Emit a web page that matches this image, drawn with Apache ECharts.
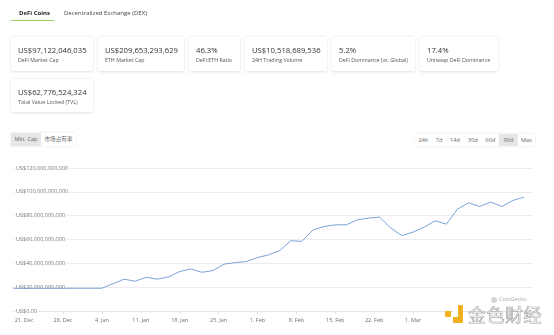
<!DOCTYPE html>
<html>
<head>
<meta charset="utf-8">
<script src="https://cdn.jsdelivr.net/npm/echarts@6/dist/echarts.min.js"></script>
<style>
  html, body { margin: 0; padding: 0; background: #fff; }
  body { width: 554px; height: 335px; position: relative; overflow: hidden; font-family: "Open Sans", "Noto Sans", sans-serif; color: #333; }
  #chart { position: absolute; left: 0; top: 0; width: 554px; height: 335px; }
  .abs { position: absolute; white-space: nowrap; }
  .tab { font-size: 6px; top: 9px; line-height: 8px; }
  .card { position: absolute; background: #fff; box-shadow: 0 0.5px 3px rgba(0,0,0,0.13); border-radius: 2px; }
  .card .v { position: absolute; left: 7px; top: 8px; font-size: 7.7px; line-height: 10px; color: #333; }
  .card .l { position: absolute; left: 7px; top: 20px; font-size: 5.3px; line-height: 7px; color: #555; }
  .btn { position: absolute; font-size: 5.6px; line-height: 12px; height: 12px; text-align: center; color: #666666; background: #fff; }
  .btn.on { background: #e6e6e6; }
</style>
</head>
<body>
<div id="chart"></div>

<div class="abs tab" style="left:19px;font-weight:bold;color:#222;">DeFi Coins</div>
<div class="abs" style="left:11px;top:20px;width:43px;height:1.3px;background:#9ccb64;"></div>
<div class="abs tab" style="left:64px;color:#444;">Decentralized Exchange (DEX)</div>

<div class="card" style="left:11px;top:37px;width:82px;height:34px;"><div class="v">US$97,122,046,035</div><div class="l">DeFi Market Cap</div></div>
<div class="card" style="left:98px;top:37px;width:86px;height:34px;"><div class="v">US$209,653,293,629</div><div class="l">ETH Market Cap</div></div>
<div class="card" style="left:189px;top:37px;width:51px;height:34px;"><div class="v">46.3%</div><div class="l">DeFi:ETH Ratio</div></div>
<div class="card" style="left:245px;top:37px;width:82px;height:34px;"><div class="v">US$10,518,689,536</div><div class="l">24H Trading Volume</div></div>
<div class="card" style="left:332px;top:37px;width:83px;height:34px;"><div class="v">5.2%</div><div class="l">DeFi Dominance (vs. Global)</div></div>
<div class="card" style="left:420px;top:37px;width:78px;height:34px;"><div class="v">17.4%</div><div class="l">Uniswap DeFi Dominance</div></div>
<div class="card" style="left:11px;top:79px;width:82px;height:33px;"><div class="v">US$62,776,524,324</div><div class="l">Total Value Locked (TVL)</div></div>

<div class="abs" style="left:11px;top:133px;width:65px;height:13px;box-shadow:0 0 2px rgba(0,0,0,0.12);">
  <div class="btn on" style="left:0;top:0;width:30px;height:13px;line-height:13px;">Mkt. Cap</div>
  <div class="btn" style="left:30px;top:0;width:35px;height:13px;line-height:13px;font-family:'Noto Sans CJK SC',sans-serif;">市场占有率</div>
</div>

<div class="abs" style="left:415px;top:134px;width:120px;height:12px;box-shadow:0 0 2px rgba(0,0,0,0.12);">
  <div class="btn" style="left:0;top:0;width:17px;">24h</div>
  <div class="btn" style="left:17px;top:0;width:14px;">7d</div>
  <div class="btn" style="left:31px;top:0;width:18px;">14d</div>
  <div class="btn" style="left:49px;top:0;width:18px;">30d</div>
  <div class="btn" style="left:67px;top:0;width:17px;">60d</div>
  <div class="btn on" style="left:84px;top:0;width:19px;">90d</div>
  <div class="btn" style="left:103px;top:0;width:17px;">Max</div>
</div>

<div class="abs" style="left:491px;top:297px;width:6px;height:6px;border-radius:50%;background:#d4d4d4;"></div>
<div class="abs" style="left:499px;top:296px;font-size:5.5px;line-height:7px;color:#aaa;">CoinGecko</div>

<div class="abs" style="left:445px;top:311px;width:6px;height:6px;background:#f2b01e;border-radius:1px;"></div>
<div class="abs" style="left:453px;top:305px;width:10px;height:18px;background:#f2b01e;border-radius:1px;"></div>
<div class="abs" style="left:453px;top:305px;width:5px;height:12px;background:#fff;"></div>
<div class="abs" style="left:468px;top:305px;font-family:'Noto Sans CJK SC',sans-serif;font-size:18px;line-height:18px;letter-spacing:0.5px;color:#fff;-webkit-text-stroke:0.7px #a8a8a8;">金色财经</div>

<script>
// DeFi market cap, 90-day view (values in billions of US$)
const dates = [
  '2020-12-19', '2021-01-04', '2021-01-08', '2021-01-10', '2021-01-12', '2021-01-14',
  '2021-01-16', '2021-01-18', '2021-01-20', '2021-01-22', '2021-01-24', '2021-01-26',
  '2021-01-28', '2021-01-30', '2021-02-01', '2021-02-03', '2021-02-05', '2021-02-07',
  '2021-02-09', '2021-02-11', '2021-02-13', '2021-02-15', '2021-02-17', '2021-02-19',
  '2021-02-21', '2021-02-23', '2021-02-25', '2021-02-27', '2021-03-01', '2021-03-03',
  '2021-03-05', '2021-03-07', '2021-03-09', '2021-03-11', '2021-03-13', '2021-03-15',
  '2021-03-17', '2021-03-19', '2021-03-21'
];
const marketCap = [
  19.1, 19.1, 26.7, 25.0, 28.3, 26.7,
  28.6, 33.1, 35.3, 32.5, 33.9, 39.3,
  40.6, 41.5, 44.8, 47.1, 50.7, 58.9,
  58.5, 68.1, 70.9, 72.3, 72.3, 76.5,
  78.0, 78.8, 69.6, 63.3, 66.2, 70.4,
  75.7, 72.9, 85.5, 90.8, 87.7, 91.4,
  87.7, 92.8, 95.6
];
const xTickDates = [
  '2020-12-21', '2020-12-28', '2021-01-04', '2021-01-11', '2021-01-18', '2021-01-25',
  '2021-02-01', '2021-02-08', '2021-02-15', '2021-02-22', '2021-03-01'
];
const xTickLabels = [
  '21. Dec', '28. Dec', '4. Jan', '11. Jan', '18. Jan', '25. Jan',
  '1. Feb', '8. Feb', '15. Feb', '22. Feb', '1. Mar'
];
const yTicks = [0, 20, 40, 60, 80, 100, 120];

function ts(s) {
  const p = s.split('-').map(Number);
  return Date.UTC(p[0], p[1] - 1, p[2]);
}
const xTickTimes = xTickDates.map(ts);
const seriesData = dates.map((d, i) => [ts(d), marketCap[i]]);

function fmtUsd(v) {
  if (v === 0) return 'US$0.00';
  return 'US$' + Math.round(v * 1e9).toLocaleString('en-US');
}

const chart = echarts.init(document.getElementById('chart'), null, { renderer: 'canvas' });
chart.setOption({
  animation: false,
  grid: { left: 13, right: 21, top: 168, bottom: 24, containLabel: false },
  xAxis: {
    // timestamps on a linear axis so the weekly ticks can be placed exactly
    type: 'value',
    min: ts('2020-12-19'),
    max: ts('2021-03-22') + 14.4 * 3600 * 1000,
    axisLine: { show: true, lineStyle: { color: '#e4e4e4', width: 1 } },
    axisTick: { show: true, length: 3, lineStyle: { color: '#e0e0e0' }, customValues: xTickTimes },
    splitLine: { show: false },
    axisLabel: {
      customValues: xTickTimes,
      formatter: function (val) {
        const i = xTickTimes.indexOf(+val);
        return i >= 0 ? xTickLabels[i] : '';
      },
      fontSize: 5.5,
      color: '#6f6f6f',
      margin: 6,
      fontFamily: 'Open Sans'
    }
  },
  yAxis: {
    type: 'value',
    min: yTicks[0],
    max: yTicks[yTicks.length - 1],
    interval: 20,
    axisLine: { show: false },
    axisTick: { show: false },
    splitLine: { show: true, lineStyle: { color: '#ececec', width: 1 } },
    axisLabel: {
      inside: true,
      formatter: fmtUsd,
      fontSize: 5.5,
      color: '#777',
      margin: 2,
      backgroundColor: '#fff',
      padding: [1, 1, 1, 1],
      fontFamily: 'Open Sans'
    }
  },
  series: [{
    type: 'line',
    data: seriesData,
    showSymbol: false,
    symbol: 'none',
    lineStyle: { color: '#7aa3d6', width: 1 },
    z: 5
  }]
});
</script>
</body>
</html>
